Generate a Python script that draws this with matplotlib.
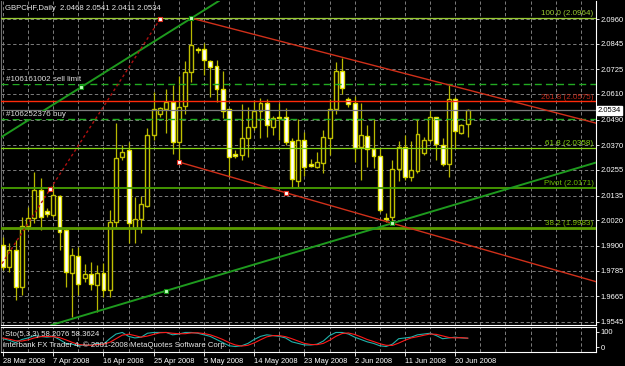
import matplotlib.pyplot as plt
import numpy as np

plt.rcParams['font.family'] = ['Liberation Sans', 'DejaVu Sans']

# GBPCHF daily, bar 0 = 28 Mar 2008 ... bar 74 = 23 Jun 2008 (Sunday bars included)
opens = [1.9905, 1.9800, 1.9881, 1.9710, 1.9993, 2.0029, 2.0161, 2.0063, 2.0045, 2.0133,
         1.9975, 1.9772, 1.9855, 1.9752, 1.9768, 1.9718, 1.9772, 1.9694, 2.0010, 2.0317,
         2.0348, 1.9982, 2.0024, 2.0088, 2.0417, 2.0516, 2.0541, 2.0571, 2.0387, 2.0555,
         2.0711, 2.0818, 2.0820, 2.0765, 2.0740, 2.0632, 2.0538, 2.0328, 2.0325, 2.0403,
         2.0457, 2.0532, 2.0566, 2.0457, 2.0501, 2.0501, 2.0390, 2.0205, 2.0395, 2.0283,
         2.0267, 2.0286, 2.0406, 2.0541, 2.0719, 2.0585, 2.0569, 2.0361, 2.0414, 2.0351,
         2.0322, 2.0031, 2.0037, 2.0258, 2.0364, 2.0221, 2.0250, 2.0333, 2.0395, 2.0501,
         2.0372, 2.0281, 2.0585, 2.0426, 2.0468]
highs = [1.9943, 1.9912, 1.9928, 2.0037, 2.0084, 2.0247, 2.0216, 2.0076, 2.0185, 2.0138,
         1.9982, 1.9889, 1.9897, 1.9816, 1.9824, 1.9811, 1.9819, 2.0068, 2.0476, 2.0372,
         2.0387, 2.0127, 2.0133, 2.0449, 2.0621, 2.0551, 2.0633, 2.0650, 2.0695, 2.0765,
         2.0964, 2.0831, 2.0849, 2.0769, 2.0769, 2.0719, 2.0540, 2.0348, 2.0563, 2.0551,
         2.0582, 2.0589, 2.0585, 2.0507, 2.0566, 2.0543, 2.0406, 2.0491, 2.0434, 2.0306,
         2.0340, 2.0442, 2.0585, 2.0761, 2.0776, 2.0594, 2.0600, 2.0566, 2.0465, 2.0491,
         2.0356, 2.0052, 2.0302, 2.0390, 2.0418, 2.0392, 2.0491, 2.0411, 2.0535, 2.0503,
         2.0403, 2.0652, 2.0594, 2.0468, 2.0541]
lows = [1.9788, 1.9780, 1.9648, 1.9671, 1.9975, 2.0006, 1.9975, 2.0037, 2.0037, 1.9881,
        1.9710, 1.9570, 1.9671, 1.9733, 1.9694, 1.9593, 1.9663, 1.9663, 1.9982, 2.0302,
        1.9912, 1.9912, 1.9959, 2.0080, 2.0395, 2.0504, 2.0426, 2.0330, 2.0294, 2.0516,
        2.0667, 2.0803, 2.0698, 2.0597, 2.0574, 2.0496, 2.0224, 2.0309, 2.0302, 2.0317,
        2.0442, 2.0403, 2.0411, 2.0418, 2.0395, 2.0372, 2.0169, 2.0177, 2.0227, 2.0270,
        2.0263, 2.0239, 2.0325, 2.0516, 2.0610, 2.0551, 2.0294, 2.0208, 2.0270, 2.0263,
        2.0060, 2.0014, 2.0006, 2.0205, 2.0208, 2.0205, 2.0242, 2.0325, 2.0387, 2.0302,
        2.0273, 2.0224, 2.0356, 2.0423, 2.0411]
closes = [1.9803, 1.9881, 1.9710, 1.9993, 2.0029, 2.0161, 2.0037, 2.0048, 2.0137, 1.9967,
          1.9780, 1.9858, 1.9722, 1.9768, 1.9722, 1.9772, 1.9694, 2.0010, 2.0309, 2.0340,
          2.0006, 2.0024, 2.0094, 2.0417, 2.0541, 2.0543, 2.0574, 2.0384, 2.0551, 2.0711,
          2.0837, 2.0816, 2.0769, 2.0737, 2.0632, 2.0532, 2.0317, 2.0320, 2.0403, 2.0457,
          2.0532, 2.0566, 2.0465, 2.0496, 2.0500, 2.0387, 2.0211, 2.0395, 2.0267, 2.0273,
          2.0291, 2.0407, 2.0541, 2.0719, 2.0636, 2.0563, 2.0359, 2.0418, 2.0351, 2.0320,
          2.0068, 2.0027, 2.0258, 2.0364, 2.0224, 2.0255, 2.0421, 2.0395, 2.0501, 2.0375,
          2.0281, 2.0585, 2.0437, 2.0465, 2.0534]

# Stochastic(5,3,3): main and signal
stoch_main = [55, 45, 30, 50, 60, 75, 70, 65, 70, 50, 25, 20, 10, 15, 15, 25, 20, 55, 85, 95,
              70, 60, 65, 90, 95, 95, 95, 80, 85, 95, 95, 90, 80, 70, 50, 30, 10, 5, 10, 25,
              50, 70, 80, 75, 70, 60, 35, 25, 15, 15, 20, 40, 75, 95, 95, 85, 65, 50, 35, 25,
              10, 5, 20, 55, 60, 65, 80, 85, 90, 75, 55, 60, 65, 60, 58.2]
stoch_signal = [60, 52, 42, 40, 48, 60, 68, 70, 68, 62, 48, 32, 18, 15, 13, 18, 20, 32, 55, 78,
                84, 75, 65, 72, 83, 93, 95, 90, 87, 87, 92, 93, 88, 80, 66, 50, 30, 15, 8, 13,
                28, 48, 67, 75, 75, 68, 55, 40, 25, 18, 17, 25, 45, 70, 88, 92, 82, 67, 50, 37,
                23, 13, 12, 27, 45, 60, 68, 77, 85, 83, 73, 63, 60, 62, 58.4]

date_bars = [0, 8, 16, 24, 32, 40, 48, 56, 64, 72]
date_labels = ['28 Mar 2008', '7 Apr 2008', '16 Apr 2008', '25 Apr 2008', '5 May 2008',
               '14 May 2008', '23 May 2008', '2 Jun 2008', '11 Jun 2008', '20 Jun 2008']
price_ticks = [2.0960, 2.0845, 2.0725, 2.0610, 2.0490, 2.0370, 2.0255, 2.0135,
               2.0020, 1.9900, 1.9785, 1.9665, 1.9545]

fibo_100, fibo_2618, fibo_618, pivot, fibo_382 = 2.0964, 2.0575, 2.0358, 2.0171, 1.9983
sell_limit, buy_price, bid = 2.0656, 2.0492, 2.0534

# trend line anchors (bar, price)
green_up = [(12.4, 2.0641), (30, 2.0964)]
green_low = [(26, 1.9691), (62, 2.0006)]
red_up = [(30, 2.0964), (71, 2.0652)]
red_low = [(28, 2.0292), (45, 2.0149)]
red_dots = [(7.5, 2.0165), (25, 2.0959)]

W, H = 625, 366
BAR_PX = 6.28      # pixels per bar
PX = 0.000467      # price per pixel


def box(x0, y0, x1, y1):
    return [x0 / W, 1 - y1 / H, (x1 - x0) / W, (y1 - y0) / H]


fig = plt.figure(figsize=(W / 100, H / 100), dpi=100, facecolor='black')
ax = fig.add_axes(box(1, 1, 596, 325), facecolor='black')
ind = fig.add_axes(box(1, 327, 596, 352), facecolor='black')

xmin, xmax = (1 - 3) / BAR_PX, (596 - 3) / BAR_PX
for a in (ax, ind):
    a.set_xlim(xmin, xmax)
    for b in range(0, 96, 4):
        a.axvline(b, color='#909090', lw=0.6, ls=(0, (4, 3)), zorder=0)
    for s in ('top', 'bottom', 'right'):
        a.spines[s].set_color('white')
        a.spines[s].set_linewidth(0.8)
    a.spines['left'].set_color('#707070')
    a.spines['left'].set_linewidth(0.8)
ax.spines['top'].set_visible(False)
ax.set_ylim(2.0960 - (325 - 19) * PX, 2.0960 + (19 - 1) * PX)
ind.set_ylim(-30, 130)

for p in price_ticks:
    ax.axhline(p, color='#909090', lw=0.6, ls=(0, (4, 3)), zorder=0)

# candles
o, h, l, c = map(np.array, (opens, highs, lows, closes))
x = np.arange(len(o))
up = c >= o
ax.vlines(x, l, h, color='#b8b800', lw=0.9, zorder=2)
ax.bar(x[up], (c - o)[up], bottom=o[up], width=0.62, color='black',
       edgecolor='#c0c000', lw=1.0, zorder=3)
ax.bar(x[~up], (o - c)[~up], bottom=c[~up], width=0.62, color='white',
       edgecolor='#e0e000', lw=1.0, zorder=3)

# horizontal objects
ax.axhline(fibo_100, color='#9acd32', lw=0.9, zorder=4)
ax.axhline(fibo_2618, color='#ff2a0a', lw=1.0, zorder=4)
ax.axhline(fibo_618, color='#84d414', lw=0.9, zorder=4)
ax.axhline(pivot, color='#48a000', lw=1.3, zorder=4)
ax.axhline(fibo_382, color='#5a9c00', lw=2.0, zorder=4)
ax.axhline(bid, color='#7a7a7a', lw=0.9, zorder=4)
ax.axhline(sell_limit, color='#22aa22', lw=1.0, ls=(0, (5, 3)), zorder=4)
ax.axhline(buy_price, color='#22aa22', lw=1.0, ls=(0, (5, 3)), zorder=4)

# trend lines
ax.axline(*green_up, color='#1e9a1e', lw=1.4, zorder=5)
ax.axline(*green_low, color='#1e9a1e', lw=1.4, zorder=5)
for (x1, y1), (x2, y2) in (red_up, red_low):
    k = (y2 - y1) / (x2 - x1)
    ax.plot([x1, xmax], [y1, y1 + k * (xmax - x1)], color='#d0301a', lw=1.0, zorder=5)
(x1, y1), (x2, y2) = red_dots
k = (y2 - y1) / (x2 - x1)
ax.plot([xmin - 1, x2], [y1 + k * (xmin - 1 - x1), y2], color='#b01010', lw=1.0,
        ls=(0, (2, 2)), zorder=5)

gx, gy = zip(*(green_up + green_low))
ax.plot(gx, gy, 's', ms=3.2, mfc='#c0ffc0', mec='#109010', mew=0.8, zorder=6)
rx, ry = zip(*(red_dots + red_low))
ax.plot(rx, ry, 's', ms=3.2, mfc='white', mec='#e03020', mew=0.8, zorder=6)

# level captions
tr = ax.get_yaxis_transform()
fs = 5.8
for val, txt, col in ((fibo_100, '100.0 (2.0964)', '#9acd32'),
                      (fibo_2618, '261.8 (2.0575)', '#c02818'),
                      (fibo_618, '61.8 (2.0358)', '#84d414'),
                      (pivot, 'Pivot (2.0171)', '#6cc000'),
                      (fibo_382, '38.2 (1.9983)', '#7cc000')):
    ax.text(0.996, val + 0.0004, txt, transform=tr, ha='right', va='bottom',
            color=col, fontsize=fs, zorder=7)
ax.text(0.008, sell_limit + 0.0004, '#106161002 sell limit', transform=tr, ha='left',
        va='bottom', color='#e0e0e0', fontsize=fs, zorder=7,
        bbox=dict(facecolor='black', edgecolor='none', pad=0.6))
ax.text(0.008, buy_price + 0.0004, '#106252376 buy', transform=tr, ha='left',
        va='bottom', color='#e0e0e0', fontsize=fs, zorder=7,
        bbox=dict(facecolor='black', edgecolor='none', pad=0.6))

# right price scale
ax.yaxis.tick_right()
ax.set_yticks(price_ticks)
ax.set_yticklabels([f'{p:.4f}' for p in price_ticks])
ax.tick_params(axis='y', colors='white', labelsize=5.5, length=2, width=0.6, pad=1.2)
ax.set_xticks([])
ax.text(1.003, bid, f'{bid:.4f}', transform=tr, ha='left', va='center', color='black',
        fontsize=5.5, zorder=8,
        bbox=dict(facecolor='white', edgecolor='white', boxstyle='square,pad=0.15'))

# stochastic window
ind.plot(x, stoch_main, color='#20b2aa', lw=0.8)
ind.plot(x, stoch_signal, color='#ff1a1a', lw=0.8)
ind.yaxis.tick_right()
ind.set_yticks([100, 0])
ind.set_yticklabels(['100', '0'])
ind.tick_params(axis='y', colors='white', labelsize=5.5, length=2, width=0.6, pad=1.2)
ind.set_xticks(date_bars)
ind.set_xticklabels(date_labels, ha='left')
ind.tick_params(axis='x', colors='white', labelsize=5.4, length=3, width=0.6, pad=1)

fig.text(5 / W, 1 - 8 / H, 'GBPCHF,Daily  2.0468 2.0541 2.0411 2.0534', color='#e8e8e8',
         fontsize=5.6, va='center')
fig.text(5 / W, 1 - 334 / H, 'Sto(5,3,3) 58.2076 58.3624', color='#e8e8e8',
         fontsize=5.6, va='center')
fig.text(3 / W, 1 - 345 / H, 'Interbank FX Trader 4, \u00a9 2001-2008 MetaQuotes Software Corp.',
         color='#e8e8e8', fontsize=5.6, va='center')

fig.savefig('out.png', dpi=100, facecolor='black')
